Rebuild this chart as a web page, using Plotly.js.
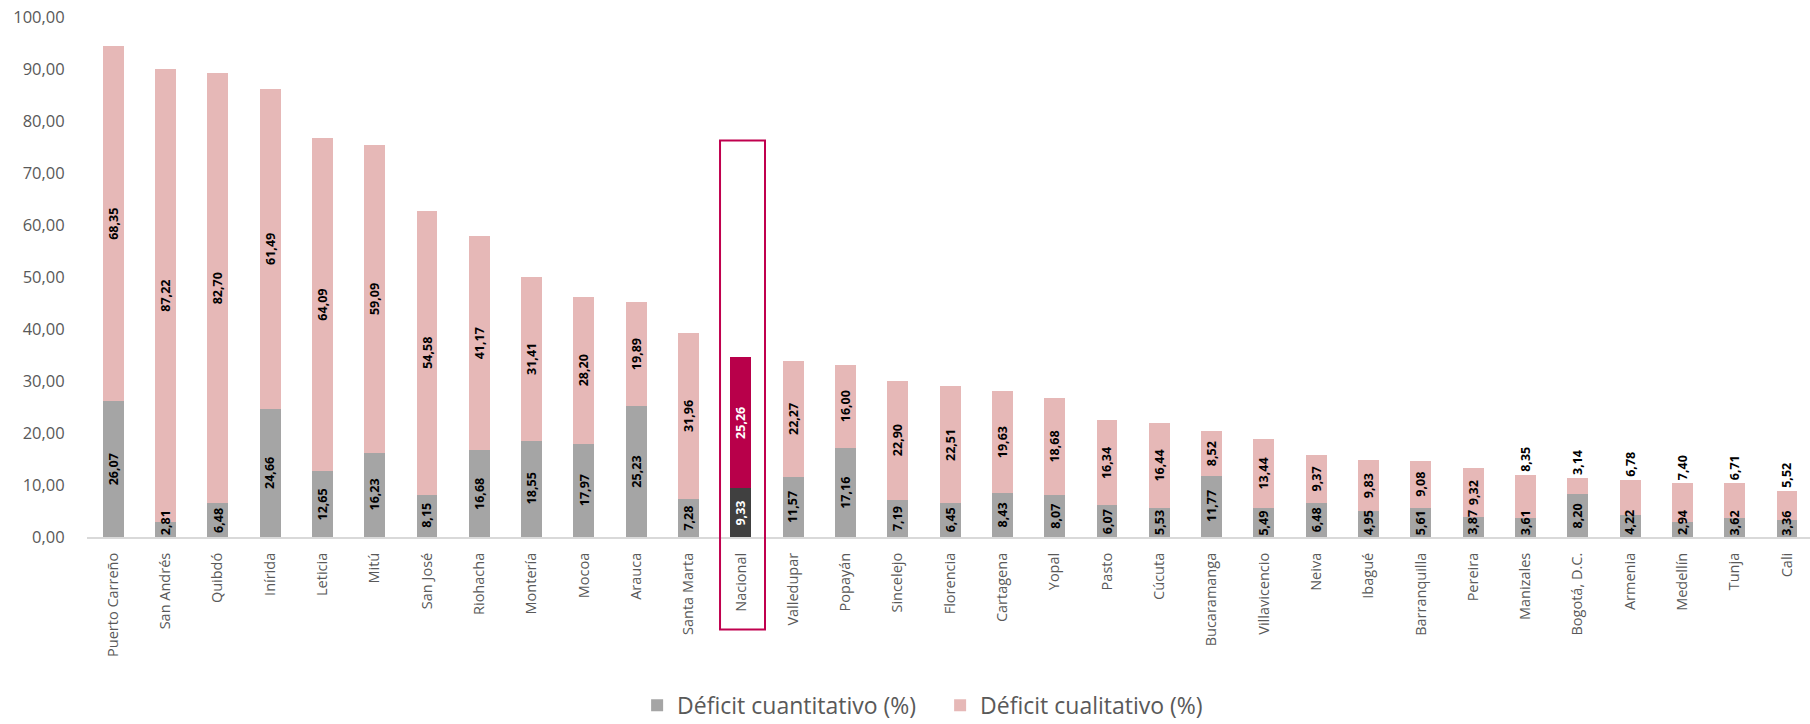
<!DOCTYPE html>
<html>
<head>
<meta charset="utf-8">
<script src="https://cdn.plot.ly/plotly-3.0.1.min.js"></script>
<style>html,body{margin:0;padding:0;background:#fff;}#chart{width:1810px;height:724px;}</style>
</head>
<body>
<div id="chart"></div>
<script>
const categories = ["Puerto Carreño","San Andrés","Quibdó","Inírida","Leticia","Mitú","San José","Riohacha","Montería","Mocoa","Arauca","Santa Marta","Nacional","Valledupar","Popayán","Sincelejo","Florencia","Cartagena","Yopal","Pasto","Cúcuta","Bucaramanga","Villavicencio","Neiva","Ibagué","Barranquilla","Pereira","Manizales","Bogotá, D.C.","Armenia","Medellín","Tunja","Cali"];
const cuantitativo = [26.07,2.81,6.48,24.66,12.65,16.23,8.15,16.68,18.55,17.97,25.23,7.28,9.33,11.57,17.16,7.19,6.45,8.43,8.07,6.07,5.53,11.77,5.49,6.48,4.95,5.61,3.87,3.61,8.20,4.22,2.94,3.62,3.36];
const cualitativo = [68.35,87.22,82.70,61.49,64.09,59.09,54.58,41.17,31.41,28.20,19.89,31.96,25.26,22.27,16.00,22.90,22.51,19.63,18.68,16.34,16.44,8.52,13.44,9.37,9.83,9.08,9.32,8.35,3.14,6.78,7.40,6.71,5.52];
const seriesNames = ["Déficit cuantitativo (%)","Déficit cualitativo (%)"];
const yTicks = [0,10,20,30,40,50,60,70,80,90,100];
const highlight = "Nacional";
const labelsAboveFrom = "Manizales";

const fmt = v => v.toFixed(2).replace('.', ',');
const FONT = '"Open Sans", "Noto Sans", sans-serif';
const GRAY = '#a5a5a5', PINK = '#e6b8b7', DARK = '#404040', CRIMSON = '#b8004a';
const aboveIdx = categories.indexOf(labelsAboveFrom);
const LABEL_HALF = 2.75; // half a label's length, in axis units, so a label never drops below the axis

const t1 = {
  type: 'bar', name: seriesNames[0], x: categories, y: cuantitativo,
  textposition: 'none',
  marker: {color: categories.map(c => c === highlight ? DARK : GRAY)},
  hoverinfo: 'x+y'
};
const t2 = {
  type: 'bar', name: seriesNames[1], x: categories, y: cualitativo,
  text: cualitativo.map(fmt),
  textposition: categories.map((c, i) => i >= aboveIdx ? 'outside' : 'inside'),
  insidetextanchor: 'middle',
  textangle: -90, constraintext: 'none', cliponaxis: false,
  textfont: {family: FONT, size: 12.5, weight: 'bold', color: categories.map(c => c === highlight ? '#ffffff' : '#000')},
  marker: {color: categories.map(c => c === highlight ? CRIMSON : PINK)},
  hoverinfo: 'x+y'
};

const annotations = categories.map((c, i) => ({
  x: c, y: Math.max(cuantitativo[i] / 2, LABEL_HALF), xref: 'x', yref: 'y',
  text: fmt(cuantitativo[i]), showarrow: false, textangle: -90,
  xanchor: 'center', yanchor: 'middle',
  font: {family: FONT, size: 12.5, weight: 'bold', color: c === highlight ? '#ffffff' : '#000'}
}));

const layout = {
  width: 1810, height: 724,
  margin: {l: 87, r: 0, t: 17, b: 187},
  barmode: 'stack', bargap: 0.6,
  separators: ',.',
  paper_bgcolor: '#fff', plot_bgcolor: '#fff',
  font: {family: FONT, color: '#595959'},
  showlegend: true,
  legend: {
    orientation: 'h', xref: 'container', yref: 'container',
    x: 0.352, xanchor: 'left', y: 0.026, yanchor: 'middle',
    font: {family: FONT, size: 23, color: '#595959'},
    entrywidth: 258, entrywidthmode: 'pixels',
    traceorder: 'normal'
  },
  xaxis: {
    type: 'category', range: [-0.5, 32.44], fixedrange: true,
    showline: true, linecolor: '#d9d9d9', linewidth: 2,
    ticks: 'outside', ticklen: 8, tickcolor: 'rgba(0,0,0,0)', tickangle: -90,
    tickfont: {family: FONT, size: 14.5, color: '#595959'},
    showgrid: false, zeroline: false
  },
  yaxis: {
    range: [0, 100], tickvals: yTicks, ticktext: yTicks.map(fmt),
    showgrid: false, zeroline: false, showline: false,
    ticks: 'outside', ticklen: 18, tickcolor: 'rgba(0,0,0,0)',
    tickfont: {family: FONT, size: 16.5, color: '#595959'}, fixedrange: true
  },
  annotations: annotations,
  shapes: [{
    type: 'rect', xref: 'paper', yref: 'paper',
    x0: 0.3674, x1: 0.3935, y0: -0.178, y1: 0.7625,
    line: {color: '#c0004e', width: 2}, fillcolor: 'rgba(0,0,0,0)', layer: 'above'
  }]
};

Plotly.newPlot('chart', [t1, t2], layout, {displayModeBar: false, staticPlot: true});
</script>
</body>
</html>
